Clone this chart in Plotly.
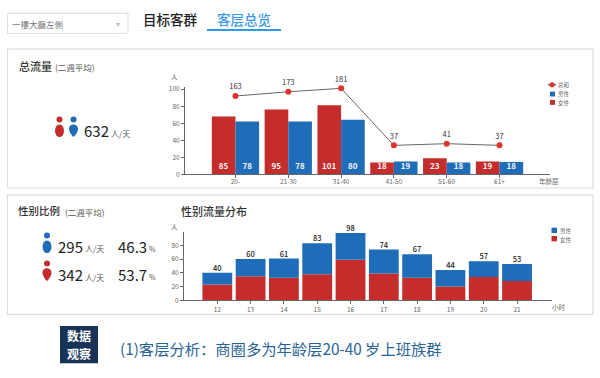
import plotly.graph_objects as go

W, H = 600, 378
FONT = "Noto Sans CJK SC"
RED, BLUE = "#c42d2b", "#1f6cb9"

# Chart 1: age groups
age_groups = ["20-", "21-30", "31-40", "41-50", "51-60", "61+"]
age_female_heights = [68, 76, 81, 14, 19, 15]
age_male_heights = [62, 62, 64, 15, 14, 14.5]
age_female_labels = ["85", "95", "101", "18", "23", "19"]
age_male_labels = ["78", "78", "80", "19", "18", "18"]
age_total_heights = [92, 97, 101, 34, 36, 34]
age_total_labels = ["163", "173", "181", "37", "41", "37"]

# Chart 2: hours
hours = ["12", "13", "14", "15", "16", "17", "18", "19", "20", "21"]
hour_totals = [40, 60, 61, 83, 98, 74, 67, 44, 57, 53]
hour_female = [23, 35, 33, 38, 59, 39, 33, 20, 34, 28]
hour_male = [t - f for t, f in zip(hour_totals, hour_female)]

fig = go.Figure()

# --- chart 1 ---
fig.add_trace(go.Bar(x=age_groups, y=age_female_heights, name="女性", marker=dict(color=RED, line_width=0),
                     text=age_female_labels, textposition="inside", insidetextanchor="start",
                     textangle=0, constraintext="none",
                     textfont=dict(color="#f4f4f4", size=8, family=FONT, weight=600), xaxis="x", yaxis="y"))
fig.add_trace(go.Bar(x=age_groups, y=age_male_heights, name="男性", marker=dict(color=BLUE, line_width=0),
                     text=age_male_labels, textposition="inside", insidetextanchor="start",
                     textangle=0, constraintext="none",
                     textfont=dict(color="#f4f4f4", size=8, family=FONT, weight=600), xaxis="x", yaxis="y"))
fig.add_trace(go.Scatter(x=age_groups, y=age_total_heights, name="总和", mode="lines+markers+text",
                         line=dict(color="#666666", width=1), marker=dict(color="#e0352b", size=6),
                         text=age_total_labels, textposition="top center", cliponaxis=False,
                         textfont=dict(color="#333333", size=7.5, family=FONT), xaxis="x", yaxis="y"))

# --- chart 2 ---
fig.add_trace(go.Bar(x=hours, y=hour_female, name="女性", marker=dict(color=RED, line_width=0),
                     offsetgroup="s", xaxis="x2", yaxis="y2"))
fig.add_trace(go.Bar(x=hours, y=hour_male, base=hour_female, name="男性", marker=dict(color=BLUE, line_width=0),
                     offsetgroup="s", xaxis="x2", yaxis="y2"))
fig.add_trace(go.Scatter(x=hours, y=hour_totals, mode="text", text=[str(v) for v in hour_totals],
                         textposition="top center", cliponaxis=False,
                         textfont=dict(color="#222222", size=7.5, family=FONT, weight=500), xaxis="x2", yaxis="y2"))


def px(x):
    return x / W


def py(y):
    return 1 - y / H


annotations = []


def label(x, y, text, size, color="#333333", anchor="left", weight=400):
    annotations.append(dict(xref="paper", yref="paper", x=px(x), y=py(y), text=text,
                            showarrow=False, xanchor=anchor, yanchor="middle",
                            font=dict(size=size, color=color, family=FONT, weight=weight), borderpad=0, borderwidth=0))


shapes = []


def rect(x0, y0, x1, y1, line=None, fill=None, width=1):
    shapes.append(dict(type="rect", xref="paper", yref="paper", x0=px(x0), x1=px(x1), y0=py(y0), y1=py(y1),
                       line=dict(color=line or "rgba(0,0,0,0)", width=width if line else 0),
                       fillcolor=fill or "rgba(0,0,0,0)", layer="below"))


def circle(cx, cy, rx, ry, fill):
    shapes.append(dict(type="circle", xref="paper", yref="paper", x0=px(cx - rx), x1=px(cx + rx),
                       y0=py(cy - ry), y1=py(cy + ry), line_width=0, fillcolor=fill))


def teardrop(cx, top, bottom, r, fill):
    """Body icon: round shoulders narrowing to a point (page pixels converted to paper)."""
    mid = top + r
    pts = [(cx, top), (cx + r, top), (cx + r, mid), (cx + r, mid + (bottom - mid) * .5), (cx, bottom),
           (cx - r, mid + (bottom - mid) * .5), (cx - r, mid), (cx - r, top), (cx, top)]
    p = [f"{px(a):.5f},{py(b):.5f}" for a, b in pts]
    path = f"M{p[0]} C{p[1]} {p[2]} {p[2]} C{p[3]} {p[4]} {p[4]} C{p[5]} {p[6]} {p[6]} C{p[7]} {p[8]} {p[8]} Z"
    shapes.append(dict(type="path", xref="paper", yref="paper", path=path, line_width=0, fillcolor=fill))


# panels
rect(7.5, 46, 593, 188, line="#dcdcdc", width=1.2)
rect(7.5, 195, 593, 317, line="#dcdcdc", width=1.2)
# dropdown
rect(7.5, 9.5, 128, 30, line="#dddddd", width=1)
label(12, 20, "一樓大廳左側", 8.5, "#777777")
label(118, 20, "▾", 8, "#bbbbbb", "center")
# tabs
label(143, 15, "目标客群", 13.5, "#222222", weight=500)
label(217, 15, "客层总览", 13.5, "#3d9ae8", weight=500)
rect(134, 27, 207, 27.6, fill="#eeeeee")
rect(207, 25.5, 281, 27.5, fill="#2e9bee")
# titles
label(19, 63, "总流量", 11, "#333333", weight=500)
label(55, 64, "(二週平均)", 8.5, "#555555")
label(18, 211, "性别比例", 10.5, "#333333", weight=500)
label(65, 212, "(二週平均)", 8.5, "#555555")
label(181, 211, "性别流量分布", 11, "#333333", weight=500)
# stats
circle(59.5, 118, 3, 3, RED)
circle(59.5, 129.5, 4.5, 6.5, RED)
circle(73.5, 118, 3, 3, BLUE)
teardrop(73.5, 123, 136, 4.5, BLUE)
label(83.5, 129, "632", 15, "#222222")
label(111, 132, "人/天", 8, "#555555")
circle(47, 236.5, 3, 3, BLUE)
circle(47, 248, 4.5, 6.5, BLUE)
circle(47, 265, 3, 3, RED)
teardrop(47, 270, 283, 4.5, RED)
label(58, 247.5, "295", 15, "#222222")
label(85, 250, "人/天", 8, "#555555")
label(117.5, 247.5, "46.3", 15, "#222222")
label(149, 250, "%", 7, "#555555")
label(58, 276.5, "342", 15, "#222222")
label(85, 279, "人/天", 8, "#555555")
label(118, 276.5, "53.7", 15, "#222222")
label(149, 279, "%", 7, "#555555")
# axis captions
label(174, 75, "人", 6.5, "#666666", "center")
label(549, 181, "年龄层", 6.5, "#666666", "center")
label(174.5, 228, "人", 6.5, "#666666", "center")
label(559, 310, "小时", 6.5, "#666666", "center")
# note
rect(60, 329, 98, 367, fill="#183358")
label(79, 339, "数据", 12, "#ffffff", "center", 700)
label(79, 357, "观察", 12, "#ffffff", "center", 700)
label(119.5, 351.5, "(1)客层分析：商圈多为年龄层20-40 岁上班族群", 15.3, "#2a6496")

# legends: small swatches, as in the reference
shapes.append(dict(type="line", xref="paper", yref="paper", x0=px(548), x1=px(556), y0=py(82.5), y1=py(82.5),
                   line=dict(color="#555555", width=1.2)))
circle(552, 82.5, 2.6, 2.6, "#e0352b")
label(558, 82.5, "总和", 5.5, "#666666")
rect(550, 89.5, 555, 94.5, fill=BLUE)
label(558, 92, "男性", 5.5, "#666666")
rect(550, 98, 555, 103, fill=RED)
label(558, 101, "女性", 5.5, "#666666")
rect(551.5, 228.5, 557, 234, fill=BLUE)
label(560, 232, "男性", 5.5, "#666666")
rect(551.5, 237, 557, 242.5, fill=RED)
label(560, 241, "女性", 5.5, "#666666")

axis_common = dict(showgrid=False, zeroline=False, showline=True, linecolor="#666666", linewidth=1,
                   ticks="outside", ticklen=3, tickcolor="#666666", tickwidth=1,
                   tickfont=dict(size=6.5, color="#666666", family=FONT))

fig.update_layout(
    width=W, height=H, autosize=False, margin=dict(l=0, r=0, t=0, b=0),
    paper_bgcolor="#ffffff", plot_bgcolor="rgba(0,0,0,0)",
    barmode="group", bargap=0.105, bargroupgap=0,
    font=dict(family=FONT),
    xaxis=dict(domain=[px(185), px(550)], range=[-0.956, 5.956], type="category", anchor="y",
               ticklabelstandoff=-2, **axis_common),
    yaxis=dict(domain=[py(174), py(85.3)], range=[0, 102], tickvals=[0, 20, 40, 60, 80, 100], anchor="x", **axis_common),
    xaxis2=dict(domain=[px(184), px(552)], range=[-1, 10.05], type="category", anchor="y2", **axis_common),
    yaxis2=dict(domain=[py(302.7), py(233.3)], range=[0, 99], tickvals=[0, 20, 40, 60, 80], anchor="x2", **axis_common),
    shapes=shapes, annotations=annotations,
    showlegend=False,
)

fig.write_html("out.html", config=dict(displayModeBar=False),
               post_script="document.body.style.margin='0';window.dispatchEvent(new Event('resize'));")
